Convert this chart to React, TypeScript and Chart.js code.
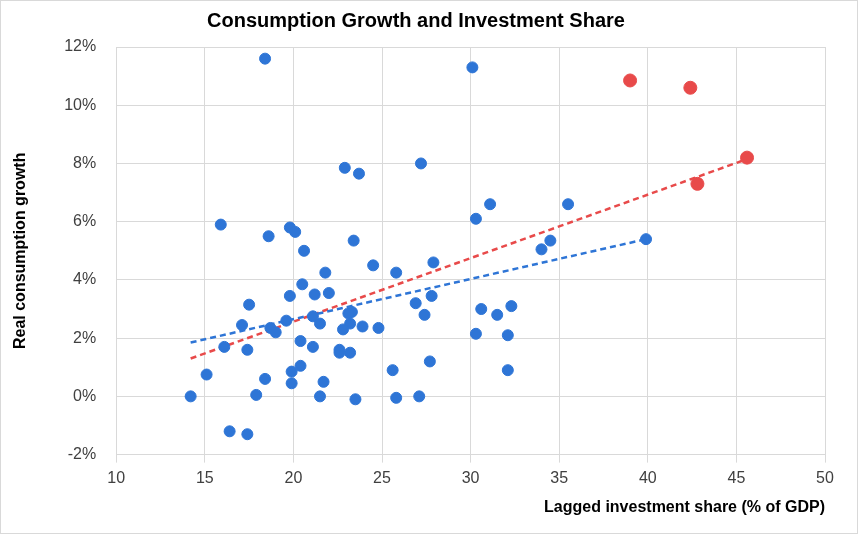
import React, { useEffect, useRef } from "react";
import { Chart, registerables } from "chart.js";
Chart.register(...registerables);

const blueX = [18.4,30.1,27.2,22.9,23.7,31.1,30.3,35.5,15.9,18.6,19.8,20.1,23.4,34.5,34.0,39.9,20.6,24.5,27.9,25.8,21.8,20.5,19.8,21.2,22.0,27.8,17.5,26.9,32.3,30.6,31.5,27.4,23.3,21.1,23.1,17.1,21.5,23.2,23.9,24.8,22.8,18.7,19.0,19.6,30.3,32.1,20.4,16.1,17.4,21.1,22.6,22.6,23.2,27.7,20.4,15.1,19.9,25.6,32.1,18.4,19.9,21.7,14.2,17.9,21.5,23.5,25.8,27.1,16.4,17.4];
const blueY = [11.6,11.3,8.0,7.85,7.65,6.6,6.1,6.6,5.9,5.5,5.8,5.65,5.35,5.35,5.05,5.4,5.0,4.5,4.6,4.25,4.25,3.85,3.45,3.5,3.55,3.45,3.15,3.2,3.1,3.0,2.8,2.8,2.9,2.75,2.85,2.45,2.5,2.5,2.4,2.35,2.3,2.35,2.2,2.6,2.15,2.1,1.9,1.7,1.6,1.7,1.6,1.5,1.5,1.2,1.05,0.75,0.85,0.9,0.9,0.6,0.45,0.5,0.0,0.05,0.0,-0.1,-0.05,0.0,-1.2,-1.3];
const redX = [39.0,42.4,42.8,45.6];
const redY = [10.85,10.6,7.3,8.2];
const blueTrendX = [14.2,39.9];
const blueTrendY = [1.85,5.4];
const redTrendX = [14.2,45.6];
const redTrendY = [1.3,8.15];

const pts = (xs: number[], ys: number[]) => xs.map((x, i) => ({ x, y: ys[i] / 100 }));
const font = "'Liberation Sans', Arial, sans-serif";

export default function App() {
  const ref = useRef<HTMLCanvasElement>(null);
  useEffect(() => {
    const c = new Chart(ref.current!, {
      type: "scatter",
      data: {
        datasets: [
          { data: pts(blueX, blueY), backgroundColor: "#2E75D6", borderColor: "#2E75D6", pointRadius: 5.5 },
          { data: pts(redX, redY), backgroundColor: "#E84A4A", borderColor: "#E84A4A", pointRadius: 6.5 },
          { type: "line", data: pts(blueTrendX, blueTrendY), borderColor: "#2E75D6", borderDash: [6, 4], borderWidth: 2.5, pointRadius: 0 },
          { type: "line", data: pts(redTrendX, redTrendY), borderColor: "#E84A4A", borderDash: [6, 4], borderWidth: 2.5, pointRadius: 0 },
        ],
      } as any,
      options: {
        animation: false,
        responsive: false,
        layout: { padding: { left: 6, right: 32, top: 4, bottom: 12 } },
        plugins: {
          legend: { display: false },
          tooltip: { enabled: false },
          title: { display: true, text: "Consumption Growth and Investment Share", color: "#000", font: { family: font, size: 20, weight: "bold" }, padding: { top: 4, bottom: 14 } },
        },
        scales: {
          x: {
            type: "linear", min: 10, max: 50,
            ticks: { stepSize: 5, padding: 6, color: "#404040", font: { family: font, size: 16 } },
            grid: { color: "#D9D9D9" },
            border: { color: "#D9D9D9" },
            title: { display: true, text: "Lagged investment share (% of GDP)", align: "end", color: "#000", font: { family: font, size: 16, weight: "bold" } },
          },
          y: {
            min: -0.02, max: 0.12,
            ticks: { stepSize: 0.02, padding: 20, color: "#404040", font: { family: font, size: 16 }, callback: (v: any) => Math.round(v * 100) + "%" },
            grid: { color: "#D9D9D9", tickLength: 0 },
            border: { color: "#D9D9D9" },
            title: { display: true, text: "Real consumption growth", color: "#000", font: { family: font, size: 16, weight: "bold" }, padding: { top: 4, bottom: 14 } },
          },
        },
      } as any,
    });
    return () => c.destroy();
  }, []);
  return (
    <div style={{ position: "fixed", left: 0, top: 0, width: 858, height: 534, background: "#fff", boxSizing: "border-box", border: "1px solid #D9D9D9" }}>
      <canvas ref={ref} width={856} height={532} />
    </div>
  );
}
